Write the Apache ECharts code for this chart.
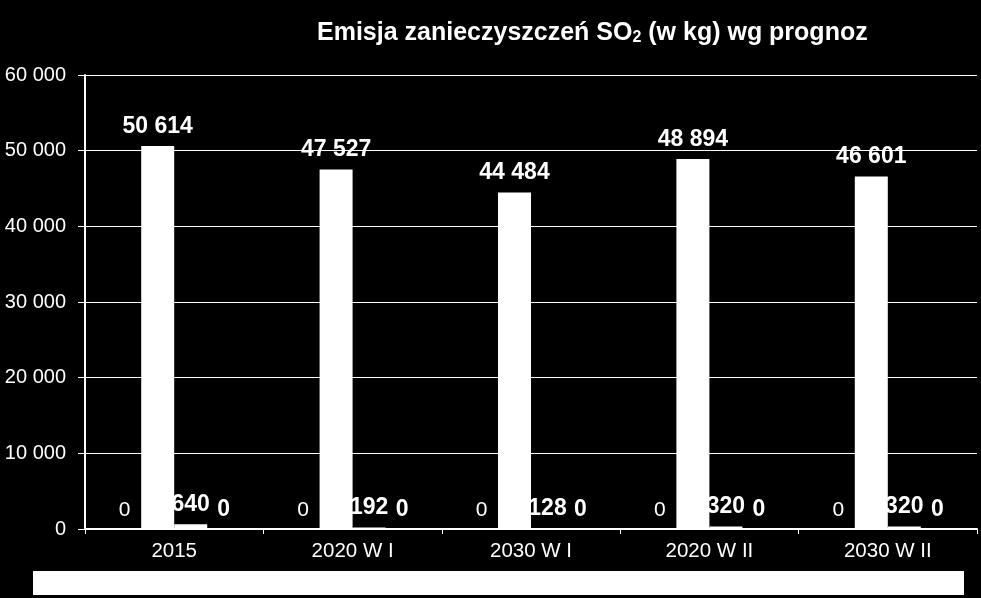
<!DOCTYPE html>
<html>
<head>
<meta charset="utf-8">
<script src="https://cdn.jsdelivr.net/npm/echarts@6/dist/echarts.min.js"></script>
<style>
  html, body { margin: 0; padding: 0; background: #000; }
  #chart { width: 981px; height: 598px; }
</style>
</head>
<body>
<div id="chart"></div>
<script>
var categories = ['2015', '2020 W I', '2030 W I', '2020 W II', '2030 W II'];
var seriesA = [0, 0, 0, 0, 0];
var seriesB = [50614, 47527, 44484, 48894, 46601];
var seriesC = [640, 192, 128, 320, 320];
var seriesD = [0, 0, 0, 0, 0];
var yMin = 0, yMax = 60000, yStep = 10000;

var font = '"Liberation Sans", Arial, sans-serif';

// 50614 -> "50 614"
function fmt(v) {
    return String(Math.round(v)).replace(/\B(?=(\d{3})+(?!\d))/g, ' ');
}

function barSeries(data, bold) {
    return {
        type: 'bar',
        data: data,
        itemStyle: { color: '#fff' },
        label: {
            show: true,
            position: 'top',
            distance: 8,
            color: '#fff',
            fontFamily: font,
            fontSize: bold ? 23 : 21,
            fontWeight: bold ? 'bold' : 'normal',
            formatter: function (p) { return fmt(p.value); }
        }
    };
}

var chart = echarts.init(document.getElementById('chart'));
var s1 = barSeries(seriesA, false);
s1.barGap = 0;
s1.barCategoryGap = '26%';

chart.setOption({
    backgroundColor: '#000',
    animation: false,
    title: {
        left: 312,
        top: 11,
        text: '{a|Emisja zanieczyszczeń SO}{s|2}{a| (w kg) wg prognoz}',
        textStyle: {
            rich: {
                a: { color: '#fff', fontFamily: font, fontSize: 25, fontWeight: 'bold', lineHeight: 30, verticalAlign: 'bottom' },
                s: { color: '#fff', fontFamily: font, fontSize: 16, fontWeight: 'bold', lineHeight: 10, verticalAlign: 'bottom' }
            }
        }
    },
    grid: { left: 85, right: 4, top: 75, bottom: 69, containLabel: false },
    xAxis: {
        type: 'category',
        data: categories,
        axisLine: { lineStyle: { color: '#fff', width: 2 } },
        axisTick: { show: true, length: 5, lineStyle: { color: '#fff' } },
        axisLabel: { color: '#fff', fontFamily: font, fontSize: 20.5, margin: 12 }
    },
    yAxis: {
        type: 'value',
        min: yMin,
        max: yMax,
        interval: yStep,
        axisLine: { show: true, lineStyle: { color: '#fff', width: 2 } },
        axisTick: { show: true, length: 7, lineStyle: { color: '#fff' } },
        axisLabel: { color: '#fff', fontFamily: font, fontSize: 20, margin: 19, formatter: fmt },
        splitLine: { lineStyle: { color: '#fff', width: 1 } }
    },
    series: [s1, barSeries(seriesB, true), barSeries(seriesC, true), barSeries(seriesD, true)],
    graphic: [{
        // empty white legend box
        type: 'rect',
        left: 33,
        top: 571,
        shape: { width: 931, height: 24 },
        style: { fill: '#fff' }
    }]
});
</script>
</body>
</html>
